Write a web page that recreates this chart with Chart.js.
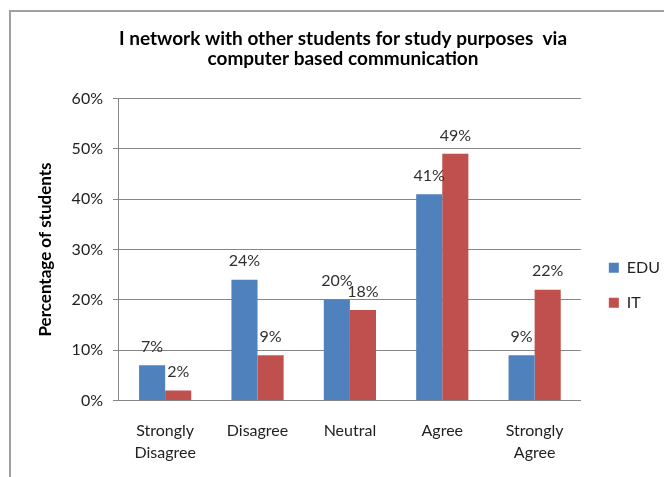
<!DOCTYPE html>
<html>
<head>
<meta charset="utf-8">
<script src="https://cdn.jsdelivr.net/npm/chart.js@4.4.1/dist/chart.umd.min.js"></script>
<style>
  html, body { margin: 0; padding: 0; background: #fff; overflow: hidden; }
  #wrap { position: relative; width: 664px; height: 477px; }
  #frame { position: absolute; left: 9px; top: 10px; right: -10px; bottom: -10px; border: 2px solid #a0a0a0; pointer-events: none; }
</style>
</head>
<body>
<div id="wrap">
  <canvas id="grafico"></canvas>
  <div id="frame"></div>
</div>
<script>
const categorias = [['Strongly', 'Disagree'], 'Disagree', 'Neutral', 'Agree', ['Strongly', 'Agree']]
const valoresEDU = [7, 24, 20, 41, 9]
const valoresIT = [2, 9, 18, 49, 22]
const ticksY = [0, 10, 20, 30, 40, 50, 60]
const titulo = ['I network with other students for study purposes  via', 'computer based communication']

const fuente = 'Lato, "Open Sans", sans-serif'

// etiquetas de porcentaje encima de cada barra
const etiquetasBarras = {
    id: 'etiquetasBarras',
    afterDatasetsDraw(chart) {
        const ctx = chart.ctx
        ctx.save()
        ctx.font = '16px ' + fuente
        ctx.fillStyle = '#303030'
        ctx.textAlign = 'center'
        ctx.textBaseline = 'middle'
        chart.data.datasets.forEach((ds, i) => {
            chart.getDatasetMeta(i).data.forEach((barra, j) => {
                ctx.fillText(Math.round(ds.data[j]) + '%', barra.x, barra.y - 18.5)
            })
        })
        ctx.restore()
    }
}

let grafico = new Chart(document.getElementById('grafico'), {
    type: 'bar',
    data: {
        labels: categorias,
        datasets: [
            { label: 'EDU', backgroundColor: '#4f81bd', data: valoresEDU },
            { label: 'IT', backgroundColor: '#c0504d', data: valoresIT }
        ]
    },
    options: {
        responsive: true,
        maintainAspectRatio: false,
        animation: false,
        layout: { padding: { left: 16, right: -6, bottom: -6.5 } },
        datasets: { bar: { barPercentage: 1, categoryPercentage: 0.565 } },
        plugins: {
            title: {
                display: true,
                text: titulo,
                color: '#000',
                font: { family: fuente, size: 19, weight: 'bold', lineHeight: 1.05 },
                padding: { top: 29, bottom: 29.6 }
            },
            legend: {
                position: 'right',
                labels: {
                    boxWidth: 10,
                    boxHeight: 10,
                    padding: 19,
                    color: '#222',
                    font: { family: fuente, size: 16 }
                },
                // titulo vacio para bajar los elementos de la leyenda
                title: { display: true, text: ' ', font: { size: 10, lineHeight: 1 }, padding: { top: 77, bottom: 0 } }
            },
            tooltip: { enabled: false }
        },
        scales: {
            x: {
                grid: { display: false, drawTicks: false },
                border: { color: '#868686' },
                ticks: { color: '#222', padding: 19.5, font: { family: fuente, size: 16, lineHeight: 1.375 } }
            },
            y: {
                min: ticksY[0],
                max: ticksY[ticksY.length - 1],
                afterBuildTicks: (eje) => { eje.ticks = ticksY.map(v => ({ value: v })) },
                grid: { color: '#868686', tickLength: 6 },
                border: { color: '#868686' },
                ticks: { color: '#222', padding: 10, font: { family: fuente, size: 16 }, callback: v => v + '%' },
                title: {
                    display: true,
                    text: 'Percentage of students',
                    color: '#000',
                    font: { family: fuente, size: 17, weight: 'bold' },
                    padding: { top: 19.8, bottom: 5.4 }
                }
            },
            // hueco entre el area de barras y la leyenda
            hueco: {
                position: 'right',
                grid: { display: false },
                border: { display: false },
                ticks: { display: false },
                afterFit: (eje) => { eje.width = 9 }
            }
        }
    },
    plugins: [etiquetasBarras]
})
</script>
</body>
</html>
